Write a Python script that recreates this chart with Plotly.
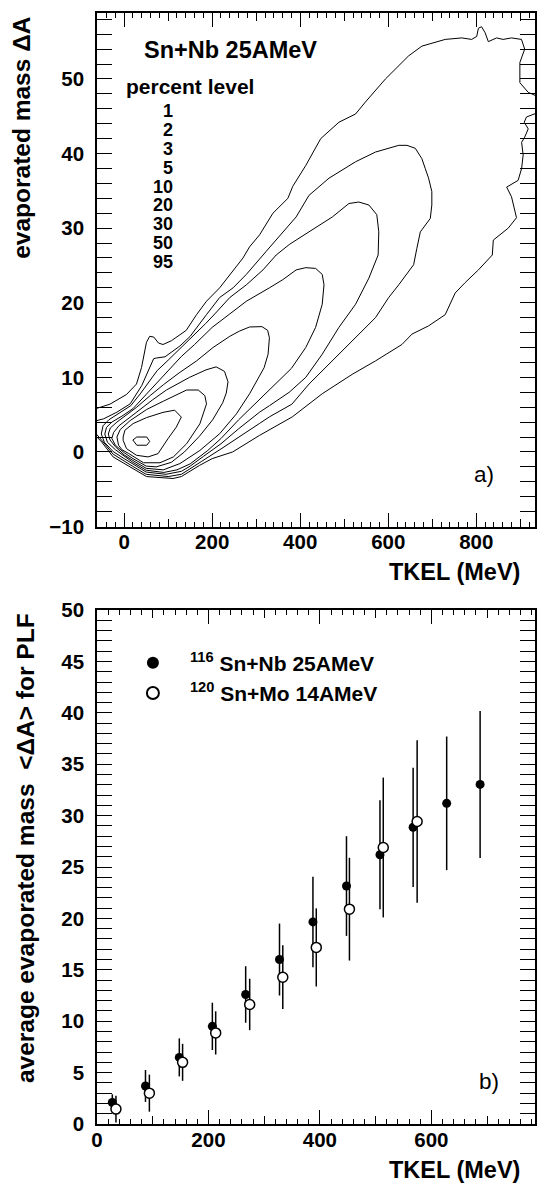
import plotly.graph_objects as go

# ---------------- panel a) : contour levels (TKEL [MeV], evaporated mass dA) ----------------
PERCENT_LEVELS = ["1", "2", "3", "5", "10", "20", "30", "50", "95"]

contour_1 = [(-75, 5.6), (-58.8, 5.9), (-32.4, 6.4), (5.4, 7.7), (28, 9.1), (39.4, 11.3), (50.7, 14.7), (58, 15.5),
             (67.2, 15.4), (78, 14.6), (88.2, 14.4), (107.2, 14.9), (141, 16.3), (164.5, 18.4), (187, 20.2),
             (217, 22.0), (243.7, 24.0), (270, 26.0), (285, 27.5), (307.7, 29.1), (338, 32.0), (372, 34.0),
             (383, 35.6), (412.6, 38.4), (446.6, 42.0), (488, 44.2), (525.7, 45.3), (548, 46.9), (593.7, 50.0),
             (646.4, 53.1), (676.5, 54.4), (729.4, 55.3), (767, 55.5), (789.6, 55.3), (801, 55.7), (804.8, 56.8),
             (812, 57.0), (820, 56.2), (827.4, 55.0), (846, 55.5), (861, 55.3), (880, 55.5), (902.7, 55.3),
             (910, 54.0), (899, 52.2), (899, 49.5), (918, 48.2), (945, 47.5), (945, 45.6), (914, 44.9),
             (909, 44.2), (918, 43.3), (910, 42.2), (903, 41.5), (906.5, 39.8), (903, 38.0), (895, 36.4),
             (869, 35.5), (880, 34.2), (888, 32.2), (891.4, 31.4), (872.6, 30.0), (838.7, 28.4), (836.4, 26.4),
             (804.8, 24.4), (774.7, 22.7), (752, 21.3), (729.4, 18.4), (691.6, 16.9), (654, 15.8), (631, 14.4),
             (571, 12.2), (518, 10.4), (450, 7.8), (382, 4.7), (307, 2.2), (246.6, 0.0), (200, -0.9),
             (171.3, -1.8), (130, -3.3), (111, -3.56), (50.7, -3.3), (20.4, -2.25), (0, -1.5), (-25, -0.67),
             (-51, 1.33), (-75, 2.8), (-75, 5.6)]

contour_2 = [(-75, 4.0), (-46.6, 4.44), (-16.5, 5.33), (13.6, 6.44), (40, 8.9), (58.8, 11.3), (67, 12.5),
             (74, 12.6), (92.8, 12.75), (126.7, 14.2), (150, 15.5), (187, 18.4), (217, 20.7), (247.5, 22.0),
             (277.6, 23.8), (322.9, 26.9), (360.6, 29.5), (390.7, 31.5), (420, 34.4), (465.4, 36.7),
             (525.8, 38.9), (571, 40.2), (623.8, 41.1), (642.5, 41.1), (661.5, 40.7), (676.5, 39.3), (684, 38.0),
             (691.6, 36.7), (699, 34.9), (699, 33.1), (695.5, 31.3), (672.9, 29.5), (665, 27.3), (657.7, 25.1),
             (623.8, 22.4), (601, 20.7), (571, 18.0), (525.8, 15.3), (472.9, 12.2), (420, 9.1), (381, 6.4),
             (330, 4.7), (307, 3.8), (260, 1.9), (220, 0.4), (175, -1.3), (130, -3.0), (100, -3.3), (50, -3.0),
             (20, -1.95), (0, -1.2), (-25, -0.3), (-50, 1.5), (-75, 3.2), (-75, 4.0)]

contour_3 = [(-52, 2.4), (-48, 3.5), (-35, 4.3), (-10, 5.2), (15, 6.2), (38, 7.9), (58, 9.6), (75, 10.9),
             (100, 12.3), (130, 14.0), (160, 15.7), (185, 17.2), (206, 18.5), (240, 20.7), (277.6, 22.4),
             (315.4, 24.4), (345.5, 26.4), (375, 27.8), (390.7, 28.4), (427.6, 29.8), (473, 31.5), (510.6, 33.3),
             (533, 33.5), (556, 33.1), (574, 31.8), (578.5, 29.5), (577, 26.4), (556, 23.3), (525.8, 19.8),
             (488, 16.7), (450, 13.1), (412.6, 10.0), (375, 8.0), (330, 6.2), (307, 5.3), (260, 3.1), (220, 1.1),
             (180, -0.6), (150, -1.9), (130, -2.6), (95, -3.0), (50, -2.7), (20, -1.65), (0, -0.9), (-25, 0.05),
             (-45, 1.3), (-52, 2.4)]

contour_5 = [(-44, 2.4), (-40, 3.3), (-28, 4.0), (-5, 4.8), (20, 5.8), (45, 7.4), (70, 9.1), (100, 11.0),
             (130, 12.8), (160, 14.4), (200, 16.7), (240, 18.5), (277.6, 20.2), (330, 22.0), (360.6, 23.1),
             (390.7, 24.4), (412.6, 24.7), (435, 24.6), (450, 23.8), (454, 22.4), (450, 19.8), (435, 16.7),
             (412.6, 14.0), (380, 11.2), (345, 9.2), (307, 7.0), (260, 4.3), (220, 1.8), (190, 0.2), (150, -1.6),
             (120, -2.4), (90, -2.75), (50, -2.45), (20, -1.4), (0, -0.6), (-20, 0.3), (-38, 1.3), (-44, 2.4)]

contour_10 = [(-36, 2.4), (-31.5, 3.2), (-16.5, 4.0), (5, 4.9), (28.7, 6.0), (60, 7.6), (89, 9.0), (125, 10.6),
              (164.5, 12.2), (202, 14.0), (240, 15.5), (262, 16.2), (285, 16.75), (313, 16.8), (326, 16.3),
              (330, 15.3), (327, 13.1), (318, 11.3), (308, 10.2), (285, 7.8), (255, 5.1), (217, 2.44),
              (172, 0.2), (126.7, -1.56), (89, -2.4), (50, -2.2), (20, -1.15), (0, -0.4), (-20, 0.7),
              (-32, 1.6), (-36, 2.4)]

contour_20 = [(-28, 1.8), (-24, 2.6), (-12, 3.5), (10, 4.5), (35.5, 5.7), (65, 7.0), (96, 8.3), (148.6, 10.0),
              (186, 11.0), (209, 11.4), (228, 10.8), (236, 9.4), (232, 7.9), (224, 6.6), (201, 4.3), (171, 2.1),
              (137, 0.0), (107, -1.4), (73, -2.0), (50, -1.9), (20, -0.9), (0, -0.1), (-20, 0.9), (-28, 1.8)]

contour_30 = [(-16.5, 2.0), (-9, 3.0), (13.6, 4.2), (51.4, 5.7), (89, 6.8), (141.9, 8.3), (168.3, 8.3),
              (183.3, 7.55), (187.1, 6.44), (172, 3.77), (141.9, 1.1), (111.8, -0.67), (81.4, -1.45),
              (43.9, -1.45), (10, -0.2), (-5, 0.3), (-12.7, 0.9), (-16.5, 2.0)]

contour_50 = [(-2.3, 2.0), (1.6, 2.9), (20.4, 3.8), (50.7, 4.6), (88.2, 5.3), (114.7, 5.6), (129.9, 4.67),
              (118.5, 3.33), (99.5, 1.77), (76.9, -0.23), (54.3, -0.67), (28.1, -0.45), (5.4, 0.44),
              (-2.3, 1.55), (-2.3, 2.0)]

contour_95 = [(19.7, 1.6), (28.7, 2.0), (51.4, 2.0), (58.1, 1.4), (51.4, 0.9), (28.7, 0.9), (19.7, 1.6)]

CONTOURS = [contour_1, contour_2, contour_3, contour_5, contour_10,
            contour_20, contour_30, contour_50, contour_95]

# ---------------- panel b) : average evaporated mass vs TKEL ----------------
tkel_nb = [27.5, 87, 147.7, 207, 266.8, 327.5, 387.5, 447.7, 507.8, 567.3, 627.5, 687.5]
dA_nb = [2.09, 3.70, 6.48, 9.5, 12.6, 16.0, 19.66, 23.15, 26.2, 28.87, 31.2, 33.04]
err_nb = [0.8, 1.55, 1.85, 2.3, 2.75, 3.5, 4.4, 4.85, 5.3, 5.8, 6.5, 7.15]

tkel_mo = [34, 94, 153.6, 213, 274, 333.4, 393.5, 453, 513.7, 574.5]
dA_mo = [1.45, 3.0, 6.0, 8.86, 11.63, 14.28, 17.18, 20.9, 26.9, 29.43]
err_mo = [1.3, 1.8, 1.8, 2.1, 2.5, 3.1, 3.8, 5.0, 6.8, 7.9]

LABEL_NB = "<sup>116</sup> Sn+Nb 25AMeV"
LABEL_MO = "<sup>120</sup> Sn+Mo 14AMeV"

# ---------------- geometry / style ----------------
W, H = 538, 1185
ML, MR, MT, MB = 97, 1, 7, 61
PW, PH = W - ML - MR, H - MT - MB
FONT = "Liberation Sans, Arial, Helvetica, sans-serif"


def px_x(px):
    return (px - ML) / PW


def px_y(py):
    return (H - MB - py) / PH


fig = go.Figure()

for c in CONTOURS:
    fig.add_trace(go.Scatter(x=[p[0] for p in c], y=[p[1] for p in c], mode="lines",
                             line=dict(color="black", width=1), showlegend=False,
                             hoverinfo="skip", xaxis="x", yaxis="y"))

fig.add_trace(go.Scatter(x=tkel_nb, y=dA_nb, mode="markers", name=LABEL_NB,
                         marker=dict(symbol="circle", size=9, color="black"),
                         error_y=dict(type="data", array=err_nb, color="black", thickness=1.5, width=0),
                         xaxis="x2", yaxis="y2"))
fig.add_trace(go.Scatter(x=tkel_mo, y=dA_mo, mode="markers", name=LABEL_MO,
                         marker=dict(symbol="circle", size=10, color="white",
                                     line=dict(color="black", width=1.5)),
                         error_y=dict(type="data", array=err_mo, color="black", thickness=1.5, width=0),
                         xaxis="x2", yaxis="y2"))
# carriers for the intermediate-length tick axes
fig.add_trace(go.Scatter(x=[], y=[], xaxis="x3", yaxis="y", showlegend=False, hoverinfo="skip"))
fig.add_trace(go.Scatter(x=[], y=[], xaxis="x4", yaxis="y2", showlegend=False, hoverinfo="skip"))

tickfont = dict(family=FONT, size=20.5, color="black", weight="bold")


def axis(rng, dtick, minor_dtick, ticklen, minorlen, **kw):
    d = dict(range=rng, tickmode="linear", tick0=0, dtick=dtick, ticks="inside", ticklen=ticklen,
             tickwidth=1, tickcolor="black", showline=True, linewidth=1.5, linecolor="black",
             mirror="allticks", showgrid=False, zeroline=False, tickfont=tickfont,
             minor=dict(tickmode="linear", tick0=0, dtick=minor_dtick, ticks="inside", ticklen=minorlen,
                        tickwidth=1, tickcolor="black", showgrid=False))
    d.update(kw)
    return d


XR_A = [-61.7, 933.4]
YR_A = [-10, 58.84]
XR_B = [0, 786]
YR_B = [0, 50]
DOM_A = [px_y(523.3), 1.0]
DOM_B = [0.0, px_y(607.3)]

fig.update_layout(
    width=W, height=H, autosize=False,
    margin=dict(l=ML, r=MR, t=MT, b=MB),
    paper_bgcolor="white", plot_bgcolor="white",
    xaxis=axis(XR_A, 200, 20, 14, 5, domain=[0, 1], anchor="y", ticklabelstandoff=-4),
    yaxis=axis(YR_A, 10, 2, 15, 7.5, domain=DOM_A, anchor="x", ticklabelstandoff=7),
    xaxis2=axis(XR_B, 200, 20, 14, 5, domain=[0, 1], anchor="y2", ticklabelstandoff=-3),
    yaxis2=axis(YR_B, 5, 1, 15, 7.5, domain=DOM_B, anchor="x2", ticklabelstandoff=7),
    xaxis3=dict(range=XR_A, overlaying="x", anchor="y", tickmode="linear", tick0=0, dtick=100,
                ticks="inside", ticklen=8, tickwidth=1, tickcolor="black", showticklabels=False,
                showline=False, mirror="ticks", showgrid=False, zeroline=False),
    xaxis4=dict(range=XR_B, overlaying="x2", anchor="y2", tickmode="linear", tick0=0, dtick=100,
                ticks="inside", ticklen=8, tickwidth=1, tickcolor="black", showticklabels=False,
                showline=False, mirror="ticks", showgrid=False, zeroline=False),
    showlegend=True,
    legend=dict(x=px_x(116), y=px_y(640), xanchor="left", yanchor="top",
                font=dict(family=FONT, size=21, color="black", weight="bold"),
                itemwidth=64, itemsizing="constant", bgcolor="rgba(0,0,0,0)", borderwidth=0,
                tracegroupgap=0),
)


def ann(text, px, py, size, bold=True, xanchor="center", yanchor="middle", angle=0):
    return dict(text=text, x=px_x(px), y=px_y(py), xref="paper", yref="paper", showarrow=False,
                xanchor=xanchor, yanchor=yanchor, textangle=angle,
                font=dict(family=FONT, size=size, color="black", weight="bold" if bold else "normal"))


annotations = [
    ann("Sn+Nb 25AMeV", 142, 44, 23.5, xanchor="left"),
    ann("percent level", 124, 81, 21, xanchor="left"),
    ann("a)", 486, 471, 22.5, bold=False),
    ann("b)", 491, 1081, 22.5, bold=False),
    ann("TKEL (MeV)", 524, 569, 23.5, xanchor="right"),
    ann("TKEL (MeV)", 524, 1170, 23.5, xanchor="right"),
    ann("evaporated mass ΔA", 21, 8, 24.5, yanchor="top", angle=-90),
    ann("average evaporated mass&nbsp; &lt;ΔA&gt; for PLF", 25, 608, 24.5, yanchor="top", angle=-90),
]
level_y = [106, 124.5, 143.5, 162.5, 181.5, 200, 219, 238.5, 257]
for lab, yy in zip(PERCENT_LEVELS, level_y):
    annotations.append(ann(lab, 175, yy, 18, xanchor="right"))

fig.update_layout(annotations=annotations)

fig.write_html("out.html")
